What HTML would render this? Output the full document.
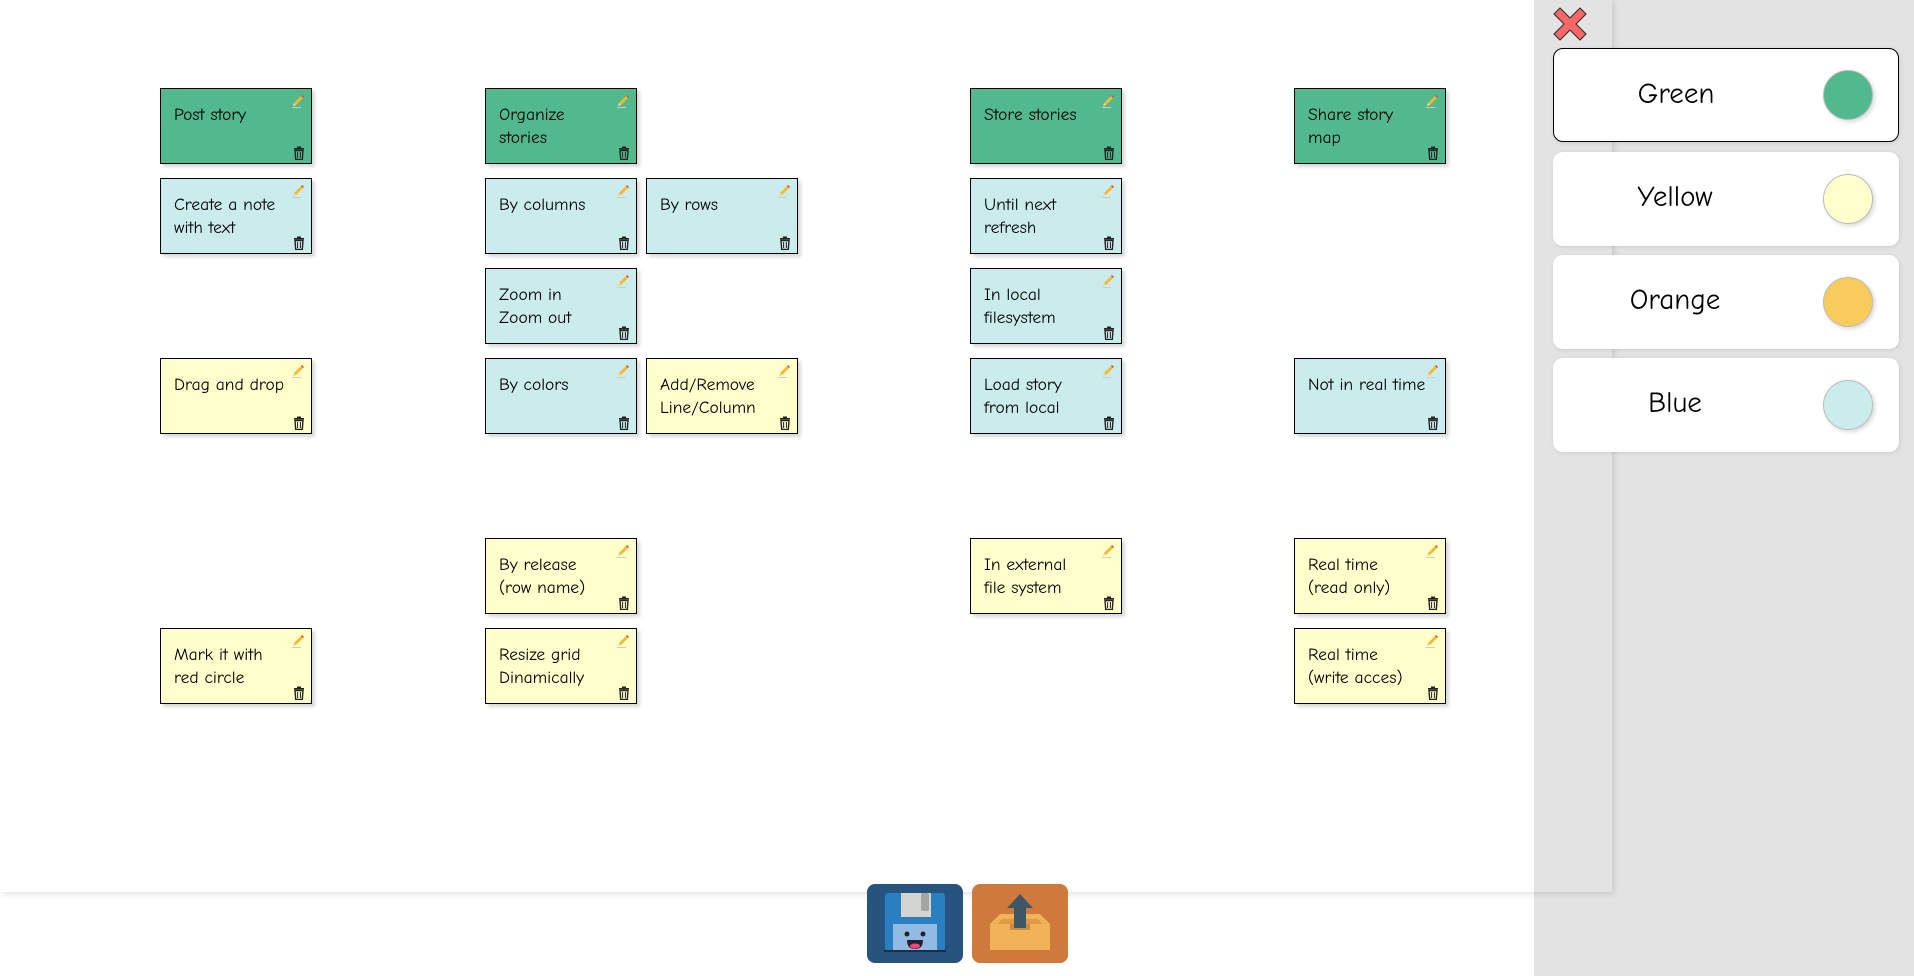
<!DOCTYPE html>
<html><head><meta charset="utf-8"><style>
*{margin:0;padding:0;box-sizing:border-box}
body{width:1914px;height:976px;position:relative;overflow:hidden;background:#fff;font-family:"Comic Sans MS","Comic Neue","DejaVu Sans","Liberation Sans",sans-serif}
.side{position:absolute;left:1534px;top:0;width:380px;height:976px;background:#e3e3e3}
.canvas{position:absolute;left:0;top:0;width:1612px;height:892px;background:#fff;box-shadow:2px 2px 6px rgba(0,0,0,.12)}
.canvas .ov{position:absolute;left:1534px;top:0;width:78px;height:892px;background:#e3e3e3}
.n{position:absolute;width:152px;height:76px;border:1.5px solid #000;box-shadow:3px 3px 3px rgba(0,0,0,.15);padding:15px 0 0 13px;font-size:17.5px;line-height:23px;color:#000}
.g{background:#52b98f}.b{background:#cbecec}.y{background:#ffffcc}
.n .p{position:absolute;right:6px;top:5px;width:14px;height:14px}
.n .t{position:absolute;right:6px;bottom:3px;width:12px;height:14px}
.card{position:absolute;left:1553px;width:346px;height:94px;background:#fff;border-radius:10px;box-shadow:1px 1px 4px rgba(0,0,0,.1)}
.card span{position:absolute;left:0;width:244px;text-align:center;top:28px;font-size:29px;line-height:36px}
.card i{position:absolute;left:270px;top:22px;width:50px;height:50px;border-radius:50%;border:1px solid #bbb;box-shadow:2px 2px 4px rgba(0,0,0,.15)}
</style></head><body>
<div class="side"></div>
<div class="canvas"><div class="ov"></div></div>
<svg width="0" height="0" style="position:absolute"><defs>
<symbol id="pen" viewBox="0 0 14 14"><path d="M2 12 L3 9 L10 2 L12 4 L5 11 Z" fill="#f5b82e"/><path d="M10 2 L12 4 L13 3 L11 1Z" fill="#d44"/><path d="M2 12 L3 9 L5 11Z" fill="#f3d9a6"/><line x1="1" y1="13.5" x2="10" y2="13.5" stroke="#ccc" stroke-width="1"/></symbol>
<symbol id="bin" viewBox="0 0 12 14"><rect x="1" y="2" width="10" height="1.6" fill="#222"/><rect x="4" y="0.5" width="4" height="1.6" fill="#222"/><path d="M2 4.5 H10 L9.3 13.5 H2.7Z" fill="none" stroke="#222" stroke-width="1.4"/><line x1="4.6" y1="6" x2="4.6" y2="12" stroke="#222"/><line x1="7.4" y1="6" x2="7.4" y2="12" stroke="#222"/></symbol>
</defs></svg>
<div class="n g" style="left:160px;top:88px">Post story<svg class="p"><use href="#pen"/></svg><svg class="t"><use href="#bin"/></svg></div>
<div class="n g" style="left:485px;top:88px">Organize<br>stories<svg class="p"><use href="#pen"/></svg><svg class="t"><use href="#bin"/></svg></div>
<div class="n g" style="left:970px;top:88px">Store stories<svg class="p"><use href="#pen"/></svg><svg class="t"><use href="#bin"/></svg></div>
<div class="n g" style="left:1294px;top:88px">Share story<br>map<svg class="p"><use href="#pen"/></svg><svg class="t"><use href="#bin"/></svg></div>

<div class="n b" style="left:160px;top:178px">Create a note<br>with text<svg class="p"><use href="#pen"/></svg><svg class="t"><use href="#bin"/></svg></div>
<div class="n b" style="left:485px;top:178px">By columns<svg class="p"><use href="#pen"/></svg><svg class="t"><use href="#bin"/></svg></div>
<div class="n b" style="left:646px;top:178px">By rows<svg class="p"><use href="#pen"/></svg><svg class="t"><use href="#bin"/></svg></div>
<div class="n b" style="left:970px;top:178px">Until next<br>refresh<svg class="p"><use href="#pen"/></svg><svg class="t"><use href="#bin"/></svg></div>

<div class="n b" style="left:485px;top:268px">Zoom in<br>Zoom out<svg class="p"><use href="#pen"/></svg><svg class="t"><use href="#bin"/></svg></div>
<div class="n b" style="left:970px;top:268px">In local<br>filesystem<svg class="p"><use href="#pen"/></svg><svg class="t"><use href="#bin"/></svg></div>

<div class="n y" style="left:160px;top:358px">Drag and drop<svg class="p"><use href="#pen"/></svg><svg class="t"><use href="#bin"/></svg></div>
<div class="n b" style="left:485px;top:358px">By colors<svg class="p"><use href="#pen"/></svg><svg class="t"><use href="#bin"/></svg></div>
<div class="n y" style="left:646px;top:358px">Add/Remove<br>Line/Column<svg class="p"><use href="#pen"/></svg><svg class="t"><use href="#bin"/></svg></div>
<div class="n b" style="left:970px;top:358px">Load story<br>from local<svg class="p"><use href="#pen"/></svg><svg class="t"><use href="#bin"/></svg></div>
<div class="n b" style="left:1294px;top:358px">Not in real time<svg class="p"><use href="#pen"/></svg><svg class="t"><use href="#bin"/></svg></div>

<div class="n y" style="left:485px;top:538px">By release<br>(row name)<svg class="p"><use href="#pen"/></svg><svg class="t"><use href="#bin"/></svg></div>
<div class="n y" style="left:970px;top:538px">In external<br>file system<svg class="p"><use href="#pen"/></svg><svg class="t"><use href="#bin"/></svg></div>
<div class="n y" style="left:1294px;top:538px">Real time<br>(read only)<svg class="p"><use href="#pen"/></svg><svg class="t"><use href="#bin"/></svg></div>

<div class="n y" style="left:160px;top:628px">Mark it with<br>red circle<svg class="p"><use href="#pen"/></svg><svg class="t"><use href="#bin"/></svg></div>
<div class="n y" style="left:485px;top:628px">Resize grid<br>Dinamically<svg class="p"><use href="#pen"/></svg><svg class="t"><use href="#bin"/></svg></div>
<div class="n y" style="left:1294px;top:628px">Real time<br>(write acces)<svg class="p"><use href="#pen"/></svg><svg class="t"><use href="#bin"/></svg></div>

<svg style="position:absolute;left:1552px;top:6px" width="36" height="36" viewBox="0 0 36 36"><path d="M8 2 L18 12 L28 2 L34 8 L24 18 L34 28 L28 34 L18 24 L8 34 L2 28 L12 18 L2 8Z" fill="#f66" stroke="#333" stroke-width="1.2" stroke-linejoin="round"/></svg>

<div class="card" style="top:48px;border:1.5px solid #000"><span>Green</span><i style="background:#52b98f;top:21px;left:269px"></i></div>
<div class="card" style="top:152px"><span>Yellow</span><i style="background:#ffffcc"></i></div>
<div class="card" style="top:255px"><span>Orange</span><i style="background:#f8cc5c"></i></div>
<div class="card" style="top:358px"><span>Blue</span><i style="background:#cbecec"></i></div>

<svg style="position:absolute;left:867px;top:884px" width="97" height="80" viewBox="0 0 97 80"><rect x="0" y="0" width="96" height="79" rx="8" fill="#27537f"/><rect x="18" y="9" width="60" height="58" rx="3" fill="#2a7fc0"/><rect x="34" y="9" width="30" height="24" fill="#d3d5d3"/><rect x="54" y="9" width="8" height="18" rx="2" fill="#a4a6a4"/><rect x="26" y="40" width="44" height="27" fill="#91bbe3"/><circle cx="40" cy="50" r="2.5" fill="#223"/><circle cx="56" cy="50" r="2.5" fill="#223"/><path d="M40 56 H56 Q56 65 48 65 Q40 65 40 56Z" fill="#223"/><ellipse cx="48" cy="62" rx="5" ry="2.5" fill="#f47"/><rect x="17" y="66" width="62" height="2" fill="#1c2e44"/></svg>
<svg style="position:absolute;left:972px;top:884px" width="97" height="80" viewBox="0 0 97 80"><rect x="0" y="0" width="96" height="79" rx="8" fill="#cf7a3c"/><path d="M18 40 L28 30 H68 L78 40 V66 H18Z" fill="#f2b257"/><path d="M25 40 L30 35 H66 L71 40Z" fill="#e09a44"/><path d="M38 40 H58 V46 H38Z" fill="#cf8a3c"/><path d="M48 10 L61 24 H54 V44 H42 V24 H35Z" fill="#3e5766"/></svg>
</body></html>
